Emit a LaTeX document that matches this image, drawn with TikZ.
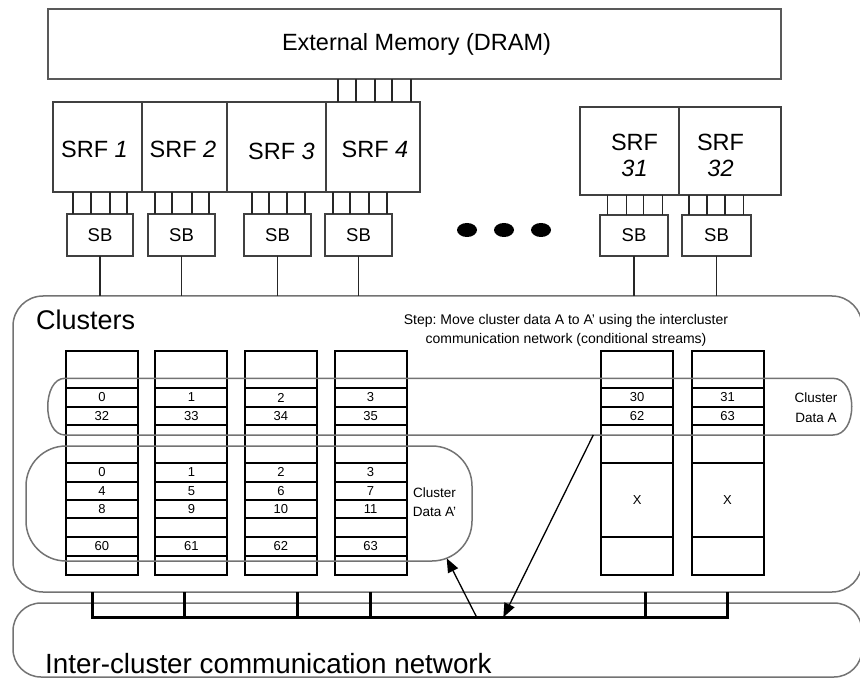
\documentclass[tikz,border=0pt]{standalone}
\usepackage{fontspec}
\setmainfont{Liberation Sans}
\usetikzlibrary{arrows.meta}
\frenchspacing
\begin{document}
\begin{tikzpicture}[x=1pt,y=-1pt,
  box/.style={draw=black!75, line width=1.2pt, inner sep=0pt, outer sep=0pt},
  srfbox/.style={box, minimum height=90pt},
  sbbox/.style={box, minimum height=42pt, font=\fontsize{18.5}{20}\selectfont},
  big/.style={font=\fontsize{23.5}{26}\selectfont, inner sep=0pt},
  wire/.style={draw=black!85, line width=1.1pt},
  region/.style={draw=black!55, line width=1.5pt},
  col/.style={draw=black, line width=2pt, inner sep=0pt, outer sep=0pt, minimum width=72pt, minimum height=224.3pt},
  cellline/.style={black, line width=2pt},
  num/.style={font=\fontsize{13}{15}\selectfont, inner sep=0pt},
  note/.style={font=\fontsize{14}{19.3}\selectfont, inner sep=0pt, align=center},
  bus/.style={black, line width=2.6pt},
  arr/.style={black, line width=1.3pt, -{Triangle[length=14pt,width=11pt]}}]
\useasboundingbox (0,0) rectangle (860,679);

% external memory
\node[box, minimum width=733pt, minimum height=70pt, draw=black!65] (mem) at (414.5,44) {};
\node[big] (memt) at (416.5,44) {External Memory (DRAM)};

% stream register file banks
\node[srfbox, minimum width=89pt] (srf1) at (97.5,147) {};
\node[srfbox, minimum width=85pt] (srf2) at (184.5,147) {};
\node[srfbox, minimum width=99pt] (srf3) at (276.5,147) {};
\node[srfbox, minimum width=94pt] (srf4) at (373,147) {};
\node[srfbox, minimum width=99pt, minimum height=88pt] (srf31) at (629.5,151) {};
\node[srfbox, minimum width=102pt, minimum height=88pt] (srf32) at (730,151) {};
\node[big] (srf1t) at (94.5,149) {SRF \textit{1}};
\node[big] (srf2t) at (183,149) {SRF \textit{2}};
\node[big] (srf3t) at (281.5,151.5) {SRF \textit{3}};
\node[big] (srf4t) at (375,149) {SRF \textit{4}};
\node[big, align=center, font=\fontsize{23.5}{26}\selectfont] (srf31t) at (634.5,155) {SRF\\\textit{31}};
\node[big, align=center, font=\fontsize{23.5}{26}\selectfont] (srf32t) at (720.5,155) {SRF\\\textit{32}};

% memory port into SRF 4
\foreach \x in {338,356,375,392,411}
  \draw[wire] (mem.south -| \x,0) -- (srf4.north -| \x,0);

% stream buffers
\node[sbbox, minimum width=66pt] (sb1) at (100,235) {SB};
\node[sbbox, minimum width=67pt] (sb2) at (181.5,235) {SB};
\node[sbbox, minimum width=67pt] (sb3) at (277.5,235) {SB};
\node[sbbox, minimum width=67pt] (sb4) at (358.5,235) {SB};
\node[sbbox, minimum width=68pt, minimum height=41pt] (sb31) at (634,235.5) {SB};
\node[sbbox, minimum width=69pt, minimum height=41pt] (sb32) at (716.5,235.5) {SB};

\foreach \x in {73,91,110,127}
  \draw[wire, line width=1.8pt] (srf1.south -| \x,0) -- (sb1.north -| \x,0);
\foreach \x in {155,172,192,209}
  \draw[wire] (srf2.south -| \x,0) -- (sb2.north -| \x,0);
\foreach \x in {252,269,287,305}
  \draw[wire] (srf3.south -| \x,0) -- (sb3.north -| \x,0);
\foreach \x in {333,350,369,387}
  \draw[wire] (srf4.south -| \x,0) -- (sb4.north -| \x,0);
\foreach \x in {607.7,626.7,643.7,662.7}
  \draw[wire] (srf31.south -| \x,0) -- (sb31.north -| \x,0);
\foreach \x in {689,707,725,743.7}
  \draw[wire] (srf32.south -| \x,0) -- (sb32.north -| \x,0);

% ellipsis
\foreach \x in {467,504,541}
  \fill (\x,230) ellipse [x radius=10pt, y radius=7pt];

% cluster array and inter-cluster network
\node[region, rounded corners=30pt, inner sep=0pt, outer sep=0pt, minimum width=849pt, minimum height=296pt] (clu) at (437.5,444) {};
\node[region, rounded corners=28pt, inner sep=0pt, outer sep=0pt, minimum width=849pt, minimum height=74pt] (net) at (437.5,640) {};
\node[anchor=base west, inner sep=0pt, font=\fontsize{27}{30}\selectfont] (clut) at (36,330) {Clusters};
\node[anchor=base west, inner sep=0pt, font=\fontsize{27.8}{30}\selectfont] (nett) at (45,673.3) {Inter-cluster communication network};

\foreach \s in {sb1,sb2,sb3,sb4,sb31,sb32}
  \draw[wire] (\s.south) -- (\s.south |- clu.north);

\node[note] (step) at (566,330.3) {Step: Move cluster data A to A' using the intercluster\\communication network (conditional streams)};

% cluster register columns
\foreach \n/\cx/\ra/\rb/\rc/\rd/\re/\rf in {1/101.9/0/32/0/4/8/60, 2/191.4/1/33/1/5/9/61, 3/280.9/2/34/2/6/10/62, 4/370.5/3/35/3/7/11/63}{
  \node[col] (c\n) at (\cx,462.85) {};
  \foreach \yy in {388.3,406.7,425,462.7,481.7,500,518.3,536.7,556}
    \draw[cellline] (c\n.west |- 0,\yy) -- (c\n.east |- 0,\yy);
  \node[num] (c\n a) at (\cx,397.5) {\ra};
  \node[num] (c\n b) at (\cx,415.8) {\rb};
  \node[num] (c\n c) at (\cx,472.2) {\rc};
  \node[num] (c\n d) at (\cx,490.8) {\rd};
  \node[num] (c\n e) at (\cx,509.2) {\re};
  \node[num] (c\n f) at (\cx,546.3) {\rf};
}
\foreach \n/\cx/\ra/\rb in {31/637.2/30/62, 32/727.5/31/63}{
  \node[col] (c\n) at (\cx,462.85) {};
  \foreach \yy in {388.3,406.7,425,462.7,536.7}
    \draw[cellline] (c\n.west |- 0,\yy) -- (c\n.east |- 0,\yy);
  \node[num] (c\n a) at (\cx,397.5) {\ra};
  \node[num] (c\n b) at (\cx,415.8) {\rb};
  \node[num] (c\n x) at (\cx,499.7) {X};
}

% data groupings
\draw[region] (65,378.3) -- (833,378.3) .. controls (858,378.3) and (858,435) .. (833,435)
  -- (65,435) .. controls (42,435) and (42,378.3) .. (65,378.3) -- cycle;
\node[note, font=\fontsize{13.5}{20.4}\selectfont] (dA) at (816,407.5) {Cluster\\Data A};
\draw[region, rounded corners=40pt] (26,446) rectangle (472,561);
\node[note, font=\fontsize{13.5}{18.7}\selectfont] (dAp) at (434.5,502.5) {Cluster\\Data A'};

% network bus
\coordinate (busL) at (92.7,617.3);
\coordinate (busR) at (727.7,617.3);
\draw[bus] (clu.south -| busL) -- (busL) -- (busR) -- (clu.south -| busR);
\foreach \x in {184.3,297.7,370.7,645.7}
  \draw[bus] (clu.south -| \x,0) -- (busL -| \x,0);

% data movement
\coordinate (a1s) at (476.7,617.3);
\coordinate (a1e) at (446.7,558.3);
\coordinate (a2s) at (593.3,435);
\coordinate (a2e) at (503.3,617.3);
\draw[arr] (a1s) -- (a1e);
\draw[arr] (a2s) -- (a2e);
\end{tikzpicture}
\end{document}
